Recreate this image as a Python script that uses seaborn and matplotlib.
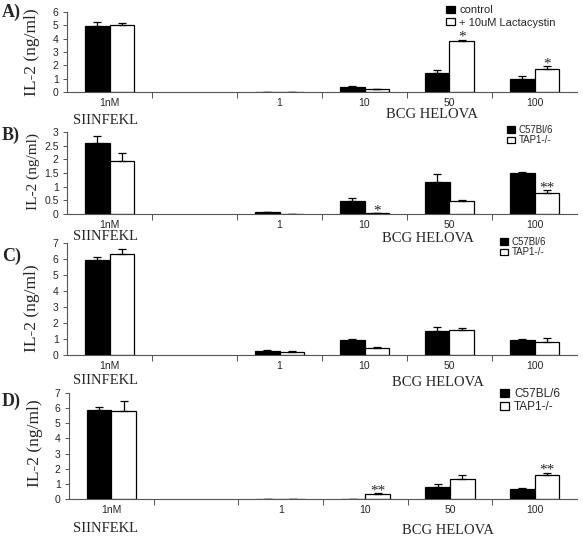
import matplotlib
matplotlib.use('Agg')

import numpy as np
import pandas as pd
import matplotlib.pyplot as plt
import seaborn as sns

# DATA
doses = ["1nM", "1", "10", "50", "100"]
slots = ["1nM", "gap", "1", "10", "50", "100"]
slot_labels = ["1nM", "", "1", "10", "50", "100"]

a_control = [4.95, 0.02, 0.40, 1.40, 1.00]
a_control_err = [0.32, 0.0, 0.03, 0.22, 0.17]
a_lacta = [5.03, 0.01, 0.22, 3.85, 1.70]
a_lacta_err = [0.17, 0.0, 0.02, 0.06, 0.25]

b_wt = [2.60, 0.06, 0.49, 1.17, 1.50]
b_wt_err = [0.27, 0.02, 0.10, 0.31, 0.04]
b_tap = [1.93, 0.0, 0.03, 0.49, 0.78]
b_tap_err = [0.29, 0.0, 0.0, 0.02, 0.09]

c_wt = [5.95, 0.22, 0.94, 1.52, 0.92]
c_wt_err = [0.20, 0.08, 0.03, 0.23, 0.06]
c_tap = [6.30, 0.21, 0.42, 1.54, 0.79]
c_tap_err = [0.30, 0.02, 0.10, 0.12, 0.29]

d_wt = [5.85, 0.0, 0.02, 0.81, 0.66]
d_wt_err = [0.22, 0.0, 0.0, 0.18, 0.05]
d_tap = [5.80, 0.0, 0.33, 1.32, 1.58]
d_tap_err = [0.67, 0.0, 0.04, 0.24, 0.15]

panels = [
    dict(letter="A)", groups=["control", "+ 10uM Lactacystin"],
         vals=[a_control, a_lacta], errs=[a_control_err, a_lacta_err],
         stars={(1, 3): "*", (1, 4): "*"}, ymax=6, ystep=1),
    dict(letter="B)", groups=["C57Bl/6", "TAP1-/-"],
         vals=[b_wt, b_tap], errs=[b_wt_err, b_tap_err],
         stars={(1, 2): "*", (1, 4): "**"}, ymax=3, ystep=0.5),
    dict(letter="C)", groups=["C57Bl/6", "TAP1-/-"],
         vals=[c_wt, c_tap], errs=[c_wt_err, c_tap_err],
         stars={}, ymax=7, ystep=1),
    dict(letter="D)", groups=["C57BL/6", "TAP1-/-"],
         vals=[d_wt, d_tap], errs=[d_wt_err, d_tap_err],
         stars={(1, 2): "**", (1, 4): "**"}, ymax=7, ystep=1),
]

# LAYOUT (pixels)
W, H = 583, 538
boxes = [(67, 12, 577, 92), (67, 132, 577, 214), (67, 243, 577, 355), (69, 393, 577, 499)]
ylabel_y = [0.5, 0.52, 0.42, 0.53]
ylabel_size = [12.5, 11, 12.5, 12.5]
letter_y = [12, 135, 256, 401]
siin_y = [120, 237, 380, 528]
bcg_y = [115, 238, 382, 530]
bcg_x = [432, 428, 438, 448]
# x, y, fontsize, labelspacing
legend_pos = [(446, 5, 8, 0.25), (507, 125, 7, 0.05), (500, 237, 7, 0.05), (500, 388, 8.5, 0.1)]

SERIF = "Liberation Serif"
SANS = "Liberation Sans"

sns.set_style("white")
plt.rcParams["font.family"] = [SANS, "DejaVu Sans"]

fig = plt.figure(figsize=(W / 100, H / 100), dpi=100)


def fx(x):
    return x / W


def fy(y):
    return 1 - y / H


for p, (l, t, r, b), ly, lsz, lety, sy, by, bx, lpos in zip(
        panels, boxes, ylabel_y, ylabel_size, letter_y, siin_y, bcg_y, bcg_x, legend_pos):
    ax = fig.add_axes([fx(l), fy(b), (r - l) / W, (b - t) / H])

    rows = []
    for g, v in zip(p["groups"], p["vals"]):
        for d, val in zip(doses, v):
            rows.append({"dose": d, "group": g, "il2": val})
    df = pd.DataFrame(rows)

    sns.barplot(data=df, x="dose", y="il2", hue="group", order=slots,
                hue_order=p["groups"], palette=["black", "white"],
                edgecolor="black", linewidth=0.9, width=0.58,
                errorbar=None, ax=ax)

    # upper error bars + significance marks
    for gi, (cont, err) in enumerate(zip(ax.containers, p["errs"])):
        xs = [bar.get_x() + bar.get_width() / 2 for bar in cont]
        hs = [bar.get_height() for bar in cont]
        e = np.array(err)
        ax.errorbar(xs, hs, yerr=[np.zeros_like(e), e], fmt="none",
                    ecolor="black", elinewidth=0.9, capsize=3, capthick=0.9)
        for (sg, di), mark in p["stars"].items():
            if sg == gi:
                ax.annotate(mark, (xs[di], hs[di] + e[di]), xytext=(0, -3),
                            textcoords="offset points", ha="center", va="bottom",
                            fontsize=11, family=SERIF)

    ax.set_xlim(-0.5, 5.5)
    ax.set_ylim(0, p["ymax"])
    ax.set_yticks(np.arange(0, p["ymax"] + p["ystep"] / 2, p["ystep"]))
    if p["ystep"] < 1:
        ax.set_yticklabels([f"{v:g}" for v in ax.get_yticks()])
    ax.set_xticks(range(len(slots)))
    ax.set_xticklabels(slot_labels)
    ax.set_xticks(np.arange(0.5, 5.5, 1), minor=True)
    ax.tick_params(axis="x", which="major", length=0, pad=4, labelsize=7.5)
    ax.tick_params(axis="x", which="minor", length=4, width=0.7, direction="out",
                   color="#555555", bottom=True)
    ax.tick_params(axis="y", length=3, width=0.7, direction="out", color="#555555",
                   left=True, pad=3, labelsize=7.5)

    for s in ["top", "right"]:
        ax.spines[s].set_visible(False)
    for s in ["left", "bottom"]:
        ax.spines[s].set_linewidth(0.8)
        ax.spines[s].set_color("#555555")

    ax.set_xlabel("")
    ax.set_ylabel("IL-2 (ng/ml)", family=SERIF, fontsize=lsz)
    ax.yaxis.set_label_coords(-0.052, ly)

    # legend
    handles, labels = ax.get_legend_handles_labels()
    lx, lyy, lfs, lsp = lpos
    ax.legend(handles, labels, loc="upper left",
              bbox_to_anchor=(fx(lx), fy(lyy)), bbox_transform=fig.transFigure,
              frameon=False, fontsize=lfs, handlelength=0.8, handleheight=0.6,
              handletextpad=0.4, labelspacing=lsp, borderpad=0, borderaxespad=0)

    fig.text(fx(2), fy(lety), p["letter"], family=SERIF, fontweight="bold",
             fontsize=13, va="center", ha="left")
    fig.text(fx(105), fy(sy), "SIINFEKL", family=SERIF, fontsize=10.5,
             va="center", ha="center")
    fig.text(fx(bx), fy(by), "BCG HELOVA", family=SERIF, fontsize=10.5,
             va="center", ha="center")

fig.savefig("out.png", dpi=100)
